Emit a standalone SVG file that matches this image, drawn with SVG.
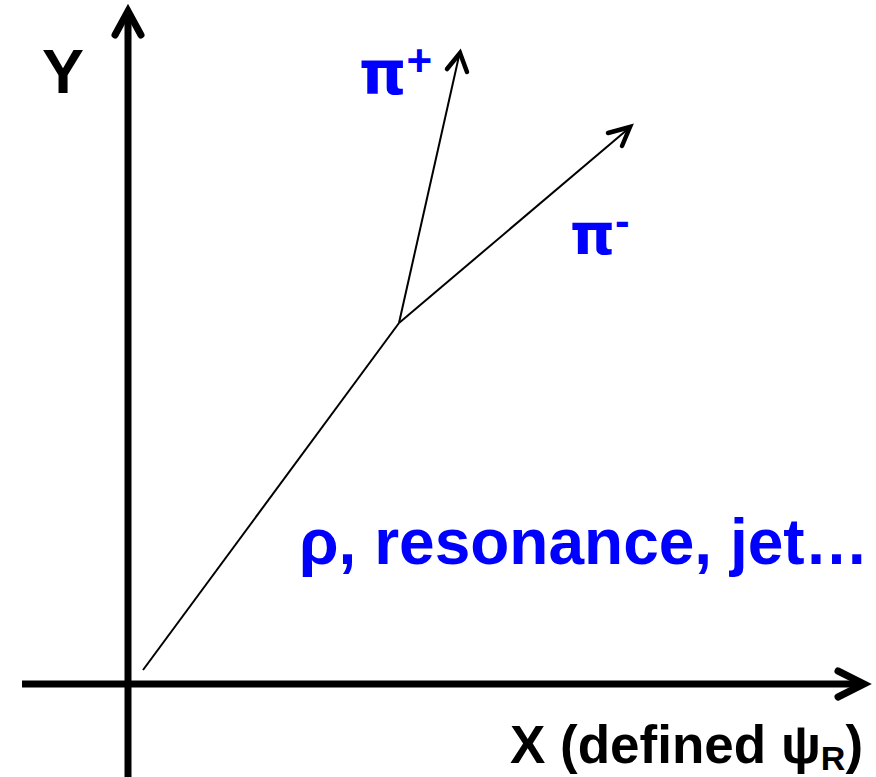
<svg xmlns="http://www.w3.org/2000/svg" width="876" height="777" viewBox="0 0 876 777">
<style>
.axis{stroke:#000;stroke-width:7;fill:none;stroke-linecap:butt}
.head{stroke:#000;stroke-width:7;fill:none;stroke-linecap:round;stroke-linejoin:miter}
.track{stroke:#000;stroke-width:2;fill:none}
.thead{stroke:#000;stroke-width:4.5;fill:none;stroke-linecap:round;stroke-linejoin:miter}
.lbl{font-family:"Liberation Sans",Arial,sans-serif;font-weight:bold}
.pi{font-family:"DejaVu Sans",sans-serif}
.blue{fill:#0000ff}
</style>
<rect width="876" height="777" fill="#fff"/>
<g id="axes">
<line class="axis" x1="128" y1="777" x2="128" y2="12"/>
<polyline class="head" points="115,35 128,11 141,35"/>
<line class="axis" x1="22" y1="684" x2="863" y2="684"/>
<polyline class="head" points="838,671 864,684 838,697"/>
</g>
<g id="connectors">
<line class="track" x1="143" y1="670" x2="399" y2="323"/>
<line class="track" x1="399" y1="323" x2="459" y2="56"/>
<polyline class="thead" points="447,69 460,53 467,72"/>
<line class="track" x1="399" y1="323" x2="628" y2="129"/>
<polyline class="thead" points="608,133 630,127 622,146"/>
</g>
<g id="label-y"><text class="lbl" x="42" y="93" font-size="63">Y</text></g>
<g id="label-piplus"><text class="lbl blue" x="359" y="94" font-size="60"><tspan class="pi">π</tspan><tspan font-size="44" dy="-18">+</tspan></text></g>
<g id="label-piminus"><text class="lbl blue" x="570" y="254" font-size="57"><tspan class="pi">π</tspan><tspan font-size="44" dy="-18">-</tspan></text></g>
<g id="label-rho"><text class="lbl blue" x="299" y="564" font-size="64">ρ, resonance, jet…</text></g>
<g id="label-x"><text class="lbl" x="510" y="763" font-size="53">X (defined ψ<tspan font-size="34" dy="7">R</tspan><tspan dy="-7">)</tspan></text></g>
</svg>
